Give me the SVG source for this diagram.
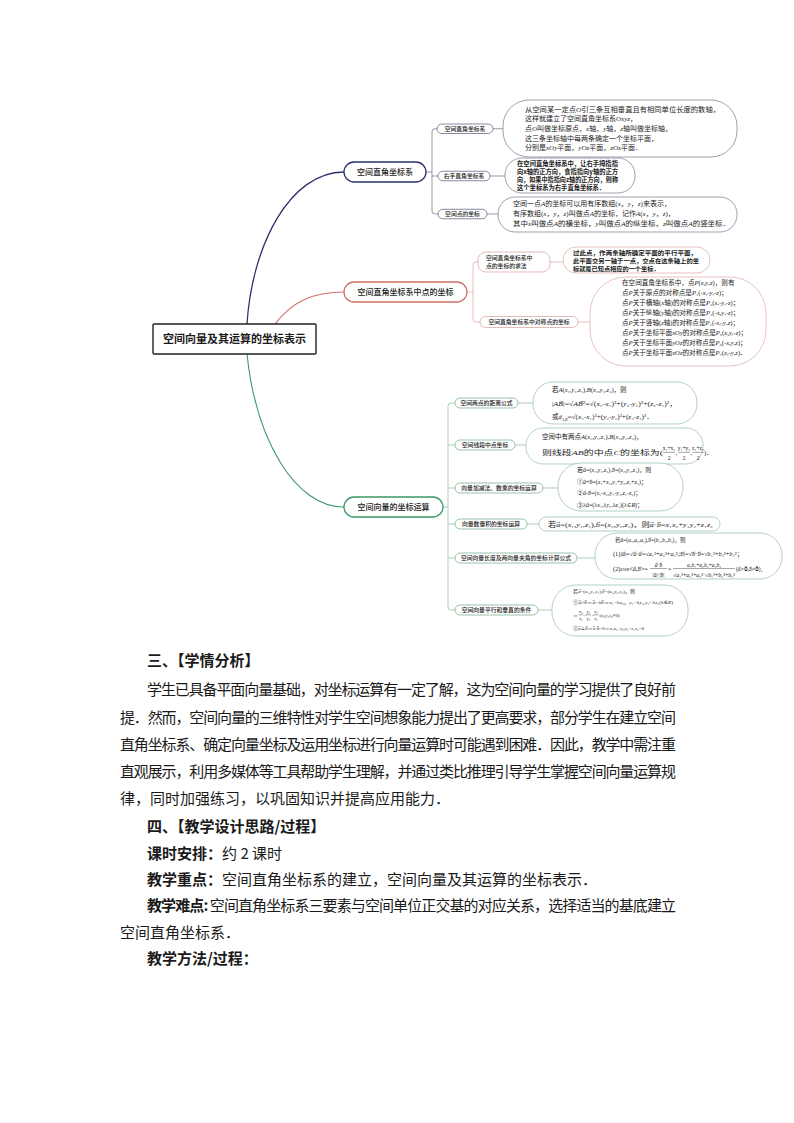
<svg xmlns="http://www.w3.org/2000/svg" width="794" height="1123" viewBox="0 0 794 1123">
<style>
.bg{fill:#fff}
.root{fill:#fff;stroke:#222;stroke-width:1.4}
.n1{fill:#fff;stroke:#2e3170;stroke-width:1.3}
.n2{fill:#fff;stroke:#cf6f68;stroke-width:1.3}
.n3{fill:#fff;stroke:#3b9867;stroke-width:1.3}
.c1{fill:#fff;stroke:#55577a;stroke-width:0.7}
.c2{fill:#fff;stroke:#d69d98;stroke-width:0.7}
.c3{fill:#fff;stroke:#6ea888;stroke-width:0.7}
.k1{fill:#fff;stroke:#77798f;stroke-width:0.7}
.k2{fill:#fff;stroke:#dca9a5;stroke-width:0.7}
.k3{fill:#fff;stroke:#94bfa5;stroke-width:0.7}
.l1{fill:none;stroke:#2e3170;stroke-width:1.3}
.l2{fill:none;stroke:#cf6f68;stroke-width:1.1}
.l3{fill:none;stroke:#3b9867;stroke-width:1.1}
.s1{fill:none;stroke:#6b6d88;stroke-width:0.7}
.s2{fill:none;stroke:#dba4a0;stroke-width:0.7}
.s3{fill:none;stroke:#8cb99f;stroke-width:0.7}
.bar{stroke:#222;stroke-width:0.4}
text{fill:#1a1a1a}
.sans{font-family:"Noto Sans CJK SC","Liberation Sans",sans-serif}
.serif{font-family:"Liberation Serif","DejaVu Serif","Noto Sans CJK SC",serif}
.tr{font-family:"Noto Sans CJK SC","Liberation Sans",sans-serif;font-size:11px;font-weight:bold}
.tb{font-family:"Noto Sans CJK SC","Liberation Sans",sans-serif;font-size:8px;font-weight:500}
.tc{font-family:"Noto Sans CJK SC","Liberation Sans",sans-serif;font-size:5.8px;font-weight:500}
.body{font-family:"Noto Sans CJK SC","Liberation Sans",sans-serif;font-size:15px}
.bold{font-weight:bold}
</style>
<rect class="bg" x="0" y="0" width="794" height="1123"/>

<g id="connectors">
  <path class="l1" d="M247,324 C252,245 290,172 344,172"/>
  <path class="l2" d="M275,324 C292,302 312,292 344,292"/>
  <path class="l3" d="M247,354 C256,440 295,507 344,507"/>
  <path class="s1" d="M426,172 H432 M437,128.75 H435 Q432,128.75 432,131.75 V211 Q432,214 435,214 H438 M432,176 H438"/>
  <path class="s1" d="M493,128.75 H503 M490,176 H505 M487,214 H498"/>
  <path class="s2" d="M467,292 H473 M478,262 H476 Q473,262 473,265 V319 Q473,322 476,322 H480"/>
  <path class="s2" d="M550,262 H563 M578,322 H590"/>
  <path class="s3" d="M443,507 H448 M455,403 H451 Q448,403 448,406 V607 Q448,610 451,610 H455 M448,445 H455 M448,488 H455 M448,524 H455 M448,558 H455"/>
  <path class="s3" d="M518,403 H533 M515,445 H526 M543,488 H558 M527,524 H539 M577,558 H595 M538,610 H552"/>
</g>

<g id="root">
  <rect class="root" x="153" y="324" width="163" height="30" rx="1"/>
  <text class="tr" x="234.5" y="343" text-anchor="middle">空间向量及其运算的坐标表示</text>
</g>

<g id="branch1">
  <rect class="n1" x="344" y="162" width="82" height="20" rx="10"/>
  <text class="tb" x="385" y="175" text-anchor="middle">空间直角坐标系</text>
</g>
<g id="branch2">
  <rect class="n2" x="344" y="282" width="123" height="20" rx="10"/>
  <text class="tb" x="405.5" y="295" text-anchor="middle">空间直角坐标系中点的坐标</text>
</g>
<g id="branch3">
  <rect class="n3" x="344" y="497" width="99" height="20" rx="10"/>
  <text class="tb" x="393.5" y="510" text-anchor="middle">空间向量的坐标运算</text>
</g>

<g id="c11">
  <rect class="c1" x="437" y="124" width="56" height="9.5" rx="4.75"/>
  <text class="tc" x="465" y="131" text-anchor="middle">空间直角坐标系</text>
</g>
<g id="c12">
  <rect class="c1" x="438" y="171.25" width="52" height="9.5" rx="4.75"/>
  <text class="tc" x="464" y="178.2" text-anchor="middle">右手直角坐标系</text>
</g>
<g id="c13">
  <rect class="c1" x="438" y="209.25" width="49" height="9.5" rx="4.75"/>
  <text class="tc" x="462.5" y="216.2" text-anchor="middle">空间点的坐标</text>
</g>

<g id="bubble11">
  <rect class="k1" x="503" y="100" width="234" height="57" rx="26"/>
  <g class="serif" font-size="7">
    <text x="525" y="111.5" textLength="195" lengthAdjust="spacingAndGlyphs">从空间某一定点<tspan font-style="italic">O</tspan>引三条互相垂直且有相同单位长度的数轴，</text>
    <text x="525" y="121.2">这样就建立了空间直角坐标系<tspan font-style="italic">Oxyz</tspan>，</text>
    <text x="525" y="130.8">点<tspan font-style="italic">O</tspan>叫做坐标原点，<tspan font-style="italic">x</tspan>轴，<tspan font-style="italic">y</tspan>轴，<tspan font-style="italic">z</tspan>轴叫做坐标轴，</text>
    <text x="525" y="140.5">这三条坐标轴中每两条确定一个坐标平面，</text>
    <text x="525" y="150.2">分别是<tspan font-style="italic">xOy</tspan>平面，<tspan font-style="italic">yOz</tspan>平面，<tspan font-style="italic">zOx</tspan>平面．</text>
  </g>
</g>
<g id="bubble12">
  <rect class="k1" x="505" y="158" width="130" height="35" rx="17"/>
  <g class="sans" font-size="6.3" font-weight="bold">
    <text x="517" y="165.5" textLength="101" lengthAdjust="spacingAndGlyphs">在空间直角坐标系中，让右手拇指指</text>
    <text x="517" y="173.8" textLength="101" lengthAdjust="spacingAndGlyphs">向x轴的正方向，食指指向y轴的正方</text>
    <text x="517" y="182.1" textLength="101" lengthAdjust="spacingAndGlyphs">向，如果中指指向z轴的正方向，则称</text>
    <text x="517" y="190.4">这个坐标系为右手直角坐标系．</text>
  </g>
</g>
<g id="bubble13">
  <rect class="k1" x="498" y="197" width="239" height="35" rx="17"/>
  <g class="serif" font-size="7">
    <text x="513" y="205.8">空间一点<tspan font-style="italic">A</tspan>的坐标可以用有序数组(<tspan font-style="italic">x</tspan>，<tspan font-style="italic">y</tspan>，<tspan font-style="italic">z</tspan>)来表示，</text>
    <text x="513" y="215.8">有序数组(<tspan font-style="italic">x</tspan>，<tspan font-style="italic">y</tspan>，<tspan font-style="italic">z</tspan>)叫做点<tspan font-style="italic">A</tspan>的坐标，记作<tspan font-style="italic">A</tspan>(<tspan font-style="italic">x</tspan>，<tspan font-style="italic">y</tspan>，<tspan font-style="italic">z</tspan>)，</text>
    <text x="513" y="225.8" textLength="217" lengthAdjust="spacingAndGlyphs">其中<tspan font-style="italic">x</tspan>叫做点<tspan font-style="italic">A</tspan>的横坐标，<tspan font-style="italic">y</tspan>叫做点<tspan font-style="italic">A</tspan>的纵坐标，<tspan font-style="italic">z</tspan>叫做点<tspan font-style="italic">A</tspan>的竖坐标．</text>
  </g>
</g>

<g id="c21">
  <rect class="c2" x="478" y="252" width="72" height="20" rx="8"/>
  <text class="tc" x="486" y="260">空间直角坐标系中</text>
  <text class="tc" x="486" y="268">点的坐标的求法</text>
</g>
<g id="c22">
  <rect class="c2" x="480" y="316.5" width="98" height="11" rx="5.5"/>
  <text class="tc" x="529" y="324.2" text-anchor="middle">空间直角坐标系中对称点的坐标</text>
</g>
<g id="bubble21">
  <rect class="k2" x="563" y="247" width="147" height="26" rx="13"/>
  <g class="sans" font-size="6.2" font-weight="bold">
    <text x="573" y="255.3" textLength="124" lengthAdjust="spacingAndGlyphs">过此点，作两条轴所确定平面的平行平面，</text>
    <text x="573" y="263.3" textLength="126" lengthAdjust="spacingAndGlyphs">此平面交另一轴于一点，交点在这条轴上的坐</text>
    <text x="573" y="271.1">标就是已知点相应的一个坐标．</text>
  </g>
</g>
<g id="bubble22">
  <rect class="k2" x="590" y="277" width="176" height="89" rx="36"/>
  <g class="serif" font-size="6.6">
    <text x="622" y="285.3">在空间直角坐标系中，点<tspan font-style="italic">P</tspan>(<tspan font-style="italic">x</tspan>,<tspan font-style="italic">y</tspan>,<tspan font-style="italic">z</tspan>)，则有</text>
    <text x="622" y="295.3">点<tspan font-style="italic">P</tspan>关于原点的对称点是<tspan font-style="italic">P</tspan>₁(-<tspan font-style="italic">x</tspan>,-<tspan font-style="italic">y</tspan>,-<tspan font-style="italic">z</tspan>)；</text>
    <text x="622" y="305.3">点<tspan font-style="italic">P</tspan>关于横轴(<tspan font-style="italic">x</tspan>轴)的对称点是<tspan font-style="italic">P</tspan>₂(<tspan font-style="italic">x</tspan>,-<tspan font-style="italic">y</tspan>,-<tspan font-style="italic">z</tspan>)；</text>
    <text x="622" y="315.3">点<tspan font-style="italic">P</tspan>关于纵轴(<tspan font-style="italic">y</tspan>轴)的对称点是<tspan font-style="italic">P</tspan>₃(-<tspan font-style="italic">x</tspan>,<tspan font-style="italic">y</tspan>,-<tspan font-style="italic">z</tspan>)；</text>
    <text x="622" y="325.3">点<tspan font-style="italic">P</tspan>关于竖轴(<tspan font-style="italic">z</tspan>轴)的对称点是<tspan font-style="italic">P</tspan>₄(-<tspan font-style="italic">x</tspan>,-<tspan font-style="italic">y</tspan>,<tspan font-style="italic">z</tspan>)；</text>
    <text x="622" y="335.3">点<tspan font-style="italic">P</tspan>关于坐标平面<tspan font-style="italic">xOy</tspan>的对称点是<tspan font-style="italic">P</tspan>₅(<tspan font-style="italic">x</tspan>,<tspan font-style="italic">y</tspan>,-<tspan font-style="italic">z</tspan>)；</text>
    <text x="622" y="345.3">点<tspan font-style="italic">P</tspan>关于坐标平面<tspan font-style="italic">yOz</tspan>的对称点是<tspan font-style="italic">P</tspan>₆(-<tspan font-style="italic">x</tspan>,<tspan font-style="italic">y</tspan>,<tspan font-style="italic">z</tspan>)；</text>
    <text x="622" y="355.3">点<tspan font-style="italic">P</tspan>关于坐标平面<tspan font-style="italic">xOz</tspan>的对称点是<tspan font-style="italic">P</tspan>₇(<tspan font-style="italic">x</tspan>,-<tspan font-style="italic">y</tspan>,<tspan font-style="italic">z</tspan>)．</text>
  </g>
</g>

<g id="c31">
  <rect class="c3" x="455" y="398" width="63" height="10" rx="5"/>
  <text class="tc" x="486.5" y="405.1" text-anchor="middle">空间两点的距离公式</text>
</g>
<g id="c32">
  <rect class="c3" x="455" y="440" width="60" height="10" rx="5"/>
  <text class="tc" x="485" y="447.1" text-anchor="middle">空间线段中点坐标</text>
</g>
<g id="c33">
  <rect class="c3" x="455" y="483" width="88" height="10" rx="5"/>
  <text class="tc" x="499" y="490.1" text-anchor="middle">向量加减法、数乘的坐标运算</text>
</g>
<g id="c34">
  <rect class="c3" x="455" y="519" width="72" height="10" rx="5"/>
  <text class="tc" x="491" y="526.1" text-anchor="middle">向量数量积的坐标运算</text>
</g>
<g id="c35">
  <rect class="c3" x="455" y="553" width="122" height="10" rx="5"/>
  <text class="tc" x="516" y="560.1" text-anchor="middle">空间向量长度及两向量夹角的坐标计算公式</text>
</g>
<g id="c36">
  <rect class="c3" x="455" y="605" width="83" height="10" rx="5"/>
  <text class="tc" x="496.5" y="612.1" text-anchor="middle">空间向量平行和垂直的条件</text>
</g>

<g id="bubble31">
  <rect class="k3" x="533" y="382" width="164" height="42" rx="20"/>
  <g class="serif" font-size="6.5">
    <text x="552" y="392">若<tspan font-style="italic">A</tspan>(<tspan font-style="italic">x</tspan>₁,<tspan font-style="italic">y</tspan>₁,<tspan font-style="italic">z</tspan>₁),<tspan font-style="italic">B</tspan>(<tspan font-style="italic">x</tspan>₂,<tspan font-style="italic">y</tspan>₂,<tspan font-style="italic">z</tspan>₂)，则</text>
    <text x="552" y="405.5" textLength="125" lengthAdjust="spacingAndGlyphs">|<tspan font-style="italic">AB</tspan>⃗|=√<tspan font-style="italic">AB</tspan>⃗²=√(<tspan font-style="italic">x</tspan>₂-<tspan font-style="italic">x</tspan>₁)²+(<tspan font-style="italic">y</tspan>₂-<tspan font-style="italic">y</tspan>₁)²+(<tspan font-style="italic">z</tspan>₂-<tspan font-style="italic">z</tspan>₁)²，</text>
    <text x="552" y="419">或<tspan font-style="italic">d</tspan></text>
    <text x="561.5" y="420.5" font-size="4" font-style="italic">A,B</text>
    <text x="567.5" y="419" textLength="86" lengthAdjust="spacingAndGlyphs">=√(<tspan font-style="italic">x</tspan>₂-<tspan font-style="italic">x</tspan>₁)²+(<tspan font-style="italic">y</tspan>₂-<tspan font-style="italic">y</tspan>₁)²+(<tspan font-style="italic">z</tspan>₂-<tspan font-style="italic">z</tspan>₁)²．</text>
  </g>
</g>
<g id="bubble32">
  <rect class="k3" x="526" y="428" width="177" height="36" rx="17"/>
  <g class="serif" font-size="6.5">
    <text x="542" y="438.5">空间中有两点<tspan font-style="italic">A</tspan>(<tspan font-style="italic">x</tspan>₁,<tspan font-style="italic">y</tspan>₁,<tspan font-style="italic">z</tspan>₁),<tspan font-style="italic">B</tspan>(<tspan font-style="italic">x</tspan>₂,<tspan font-style="italic">y</tspan>₂,<tspan font-style="italic">z</tspan>₂)，</text>
    <text x="542" y="454.5" textLength="121" lengthAdjust="spacingAndGlyphs">则线段<tspan font-style="italic">AB</tspan>的中点<tspan font-style="italic">C</tspan>的坐标为(</text>
    <text font-size="5.5" text-anchor="middle" x="669" y="450">x₁+x₂<tspan x="684">y₁+y₂</tspan><tspan x="698">z₁+z₂</tspan></text>
    <text font-size="5.5" text-anchor="middle" x="669" y="459.5">2<tspan x="684">2</tspan><tspan x="698">2</tspan></text>
    <text font-size="6.5" x="675.5" y="454.5">,<tspan x="690.5">,</tspan><tspan x="704">)．</tspan></text>
    <path class="bar" d="M663,452.3 H675 M678,452.3 H690 M692.5,452.3 H703.5"/>
  </g>
</g>
<g id="bubble33">
  <rect class="k3" x="558" y="463" width="125" height="48" rx="23"/>
  <g class="serif" font-size="6">
    <text x="577" y="472.2">若<tspan font-style="italic">a</tspan>⃗=(<tspan font-style="italic">x</tspan>₁,<tspan font-style="italic">y</tspan>₁,<tspan font-style="italic">z</tspan>₁),<tspan font-style="italic">b</tspan>⃗=(<tspan font-style="italic">x</tspan>₂,<tspan font-style="italic">y</tspan>₂,<tspan font-style="italic">z</tspan>₂)，则</text>
    <text x="577" y="484.2">①<tspan font-style="italic">a</tspan>⃗+<tspan font-style="italic">b</tspan>⃗=(<tspan font-style="italic">x</tspan>₁+<tspan font-style="italic">x</tspan>₂,<tspan font-style="italic">y</tspan>₁+<tspan font-style="italic">y</tspan>₂,<tspan font-style="italic">z</tspan>₁+<tspan font-style="italic">z</tspan>₂)；</text>
    <text x="577" y="494.5">②<tspan font-style="italic">a</tspan>⃗-<tspan font-style="italic">b</tspan>⃗=(<tspan font-style="italic">x</tspan>₁-<tspan font-style="italic">x</tspan>₂,<tspan font-style="italic">y</tspan>₁-<tspan font-style="italic">y</tspan>₂,<tspan font-style="italic">z</tspan>₁-<tspan font-style="italic">z</tspan>₂)；</text>
    <text x="577" y="507">③λ<tspan font-style="italic">a</tspan>⃗=(λ<tspan font-style="italic">x</tspan>₁,λ<tspan font-style="italic">y</tspan>₁,λ<tspan font-style="italic">z</tspan>₁)(λ∈<tspan font-style="italic">R</tspan>)；</text>
  </g>
</g>
<g id="bubble34">
  <rect class="k3" x="539" y="517" width="181" height="14" rx="7"/>
  <text class="serif" font-size="7" x="548" y="526.6" textLength="165" lengthAdjust="spacingAndGlyphs">若<tspan font-style="italic">a</tspan>⃗=(<tspan font-style="italic">x</tspan>₁,<tspan font-style="italic">y</tspan>₁,<tspan font-style="italic">z</tspan>₁),<tspan font-style="italic">b</tspan>⃗=(<tspan font-style="italic">x</tspan>₂,<tspan font-style="italic">y</tspan>₂,<tspan font-style="italic">z</tspan>₂)，则<tspan font-style="italic">a</tspan>⃗·<tspan font-style="italic">b</tspan>⃗=<tspan font-style="italic">x</tspan>₁<tspan font-style="italic">x</tspan>₂+<tspan font-style="italic">y</tspan>₁<tspan font-style="italic">y</tspan>₂+<tspan font-style="italic">z</tspan>₁<tspan font-style="italic">z</tspan>₂</text>
</g>
<g id="bubble35">
  <rect class="k3" x="595" y="533" width="187" height="46" rx="22"/>
  <g class="serif" font-size="5.5">
    <text x="615" y="542">若<tspan font-style="italic">a</tspan>⃗=(<tspan font-style="italic">a</tspan>₁,<tspan font-style="italic">a</tspan>₂,<tspan font-style="italic">a</tspan>₃),<tspan font-style="italic">b</tspan>⃗=(<tspan font-style="italic">b</tspan>₁,<tspan font-style="italic">b</tspan>₂,<tspan font-style="italic">b</tspan>₃)，则</text>
    <text x="613" y="555.5" textLength="130" lengthAdjust="spacingAndGlyphs">(1)|<tspan font-style="italic">a</tspan>⃗|=√<tspan font-style="italic">a</tspan>⃗·<tspan font-style="italic">a</tspan>⃗=√<tspan font-style="italic">a</tspan>₁²+<tspan font-style="italic">a</tspan>₂²+<tspan font-style="italic">a</tspan>₃²,|<tspan font-style="italic">b</tspan>⃗|=√<tspan font-style="italic">b</tspan>⃗·<tspan font-style="italic">b</tspan>⃗=√<tspan font-style="italic">b</tspan>₁²+<tspan font-style="italic">b</tspan>₂²+<tspan font-style="italic">b</tspan>₃²；</text>
    <text x="613" y="570.5" textLength="35" lengthAdjust="spacingAndGlyphs">(2)cos&lt;<tspan font-style="italic">a</tspan>⃗,<tspan font-style="italic">b</tspan>⃗&gt;=</text>
    <text x="658.5" y="566.5" text-anchor="middle"><tspan font-style="italic">a</tspan>⃗·<tspan font-style="italic">b</tspan>⃗</text>
    <text x="658.5" y="576.5" text-anchor="middle">|<tspan font-style="italic">a</tspan>⃗|·|<tspan font-style="italic">b</tspan>⃗|</text>
    <text x="704" y="566.5" text-anchor="middle"><tspan font-style="italic">a</tspan>₁<tspan font-style="italic">b</tspan>₁+<tspan font-style="italic">a</tspan>₂<tspan font-style="italic">b</tspan>₂+<tspan font-style="italic">a</tspan>₃<tspan font-style="italic">b</tspan>₃</text>
    <text x="704" y="576.5" text-anchor="middle" textLength="62" lengthAdjust="spacingAndGlyphs">√<tspan font-style="italic">a</tspan>₁²+<tspan font-style="italic">a</tspan>₂²+<tspan font-style="italic">a</tspan>₃²·√<tspan font-style="italic">b</tspan>₁²+<tspan font-style="italic">b</tspan>₂²+<tspan font-style="italic">b</tspan>₃²</text>
    <text x="668" y="570.5" font-size="5.5">=</text>
    <text x="736" y="570.5" font-size="5.5">(<tspan font-style="italic">a</tspan>⃗≠0⃗,<tspan font-style="italic">b</tspan>⃗≠0⃗)．</text>
    <path class="bar" d="M650,568.5 H667 M673,568.5 H735"/>
  </g>
</g>
<g id="bubble36">
  <rect class="k3" x="552" y="585" width="136" height="51" rx="24"/>
  <g class="serif" font-size="5">
    <text x="573" y="592.5">若<tspan font-style="italic">a</tspan>⃗=(<tspan font-style="italic">x</tspan>₁,<tspan font-style="italic">y</tspan>₁,<tspan font-style="italic">z</tspan>₁),<tspan font-style="italic">b</tspan>⃗=(<tspan font-style="italic">x</tspan>₂,<tspan font-style="italic">y</tspan>₂,<tspan font-style="italic">z</tspan>₂)，则</text>
    <text x="573" y="603.8" textLength="100" lengthAdjust="spacingAndGlyphs">①<tspan font-style="italic">a</tspan>⃗//<tspan font-style="italic">b</tspan>⃗⇔<tspan font-style="italic">a</tspan>⃗=λ<tspan font-style="italic">b</tspan>⃗⇔<tspan font-style="italic">x</tspan>₁=λ<tspan font-style="italic">x</tspan>₂，<tspan font-style="italic">y</tspan>₁=λ<tspan font-style="italic">y</tspan>₂,<tspan font-style="italic">z</tspan>₁=λ<tspan font-style="italic">z</tspan>₂(λ∈<tspan font-style="italic">R</tspan>)</text>
    <text x="573" y="616.5" font-size="5">⇔<tspan x="584">=</tspan><tspan x="591.5">=</tspan><tspan x="599.5">(<tspan font-style="italic">x</tspan>₂<tspan font-style="italic">y</tspan>₂<tspan font-style="italic">z</tspan>₂≠0)</tspan></text>
    <text text-anchor="middle" font-size="4.5" x="581" y="613">x₁<tspan x="588.5">y₁</tspan><tspan x="596">z₁</tspan></text>
    <text text-anchor="middle" font-size="4.5" x="581" y="620">x₂<tspan x="588.5">y₂</tspan><tspan x="596">z₂</tspan></text>
    <path class="bar" d="M578.5,614.8 H583.5 M586,614.8 H591 M593.5,614.8 H598.5"/>
    <text x="573" y="630">②<tspan font-style="italic">a</tspan>⃗⊥<tspan font-style="italic">b</tspan>⃗⇔<tspan font-style="italic">a</tspan>⃗·<tspan font-style="italic">b</tspan>⃗=0⇔<tspan font-style="italic">x</tspan>₁<tspan font-style="italic">x</tspan>₂+<tspan font-style="italic">y</tspan>₁<tspan font-style="italic">y</tspan>₂+<tspan font-style="italic">z</tspan>₁<tspan font-style="italic">z</tspan>₂=0</text>
  </g>
</g>

<g id="body-text" class="body">
  <text x="147" y="665.5" class="bold">三、【学情分析】</text>
  <text x="147" y="694.5" textLength="529" lengthAdjust="spacing">学生已具备平面向量基础，对坐标运算有一定了解，这为空间向量的学习提供了良好前</text>
  <text x="120" y="722.5" textLength="556" lengthAdjust="spacing">提．然而，空间向量的三维特性对学生空间想象能力提出了更高要求，部分学生在建立空间</text>
  <text x="120" y="749.5" textLength="556" lengthAdjust="spacing">直角坐标系、确定向量坐标及运用坐标进行向量运算时可能遇到困难．因此，教学中需注重</text>
  <text x="120" y="776.5" textLength="556" lengthAdjust="spacing">直观展示，利用多媒体等工具帮助学生理解，并通过类比推理引导学生掌握空间向量运算规</text>
  <text x="120" y="803.5">律，同时加强练习，以巩固知识并提高应用能力．</text>
  <text x="147" y="831.5" class="bold">四、【教学设计思路/过程】</text>
  <text x="147" y="858.5"><tspan class="bold">课时安排：</tspan>约 2 课时</text>
  <text x="147" y="884.5"><tspan class="bold">教学重点：</tspan>空间直角坐标系的建立，空间向量及其运算的坐标表示．</text>
  <text x="147" y="910.5" textLength="529" lengthAdjust="spacing"><tspan class="bold">教学难点:</tspan> 空间直角坐标系三要素与空间单位正交基的对应关系，选择适当的基底建立</text>
  <text x="120" y="937.5">空间直角坐标系．</text>
  <text x="147" y="963.5" class="bold">教学方法/过程：</text>
</g>
</svg>
